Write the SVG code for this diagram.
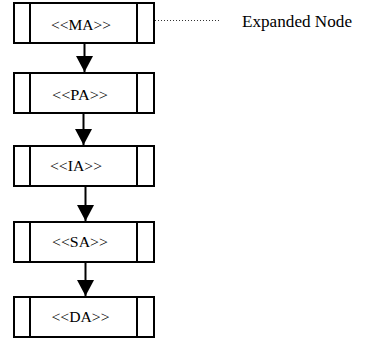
<svg xmlns="http://www.w3.org/2000/svg" width="369" height="340" viewBox="0 0 369 340">
  <style>
    .frame { fill: #ffffff; stroke: #000000; stroke-width: 2; }
    .bar { stroke: #000000; stroke-width: 2; }
    .label { font-family: "Liberation Serif", "Times New Roman", serif; font-size: 14.5px; fill: #000000; text-anchor: middle; }
    .note { font-family: "Liberation Serif", "Times New Roman", serif; font-size: 16px; fill: #000000; }
    .flow { stroke: #000000; stroke-width: 2; fill: none; marker-end: url(#head); }
    .leader { stroke: #333333; stroke-width: 1; stroke-dasharray: 1 2; fill: none; }
  </style>
  <defs>
    <marker id="head" markerWidth="16" markerHeight="17" viewBox="0 0 16 17" refX="16" refY="8.5" markerUnits="userSpaceOnUse" orient="auto">
      <path d="M0,0 L16,8.5 L0,17 Z" fill="#000000"/>
    </marker>
  </defs>
  <rect width="369" height="340" fill="#ffffff"/>

  <g id="connectors">
    <line class="flow" x1="84.5" y1="44" x2="84.5" y2="72"/>
    <line class="flow" x1="83.5" y1="114" x2="83.5" y2="145"/>
    <line class="flow" x1="85.5" y1="187" x2="85.5" y2="221"/>
    <line class="flow" x1="85.5" y1="263" x2="85.5" y2="296"/>
    <line class="leader" x1="155" y1="20.5" x2="219" y2="20.5"/>
  </g>

  <g id="node-ma">
    <rect class="frame" x="14" y="3" width="140" height="40"/>
    <line class="bar" x1="30" y1="3" x2="30" y2="43"/>
    <line class="bar" x1="137" y1="3" x2="137" y2="43"/>
    <text class="label" x="81" y="29.5" textLength="60" lengthAdjust="spacingAndGlyphs">&lt;&lt;MA&gt;&gt;</text>
  </g>

  <g id="node-pa">
    <rect class="frame" x="14" y="73" width="140" height="40"/>
    <line class="bar" x1="30" y1="73" x2="30" y2="113"/>
    <line class="bar" x1="137" y1="73" x2="137" y2="113"/>
    <text class="label" x="80" y="99.5" textLength="56" lengthAdjust="spacingAndGlyphs">&lt;&lt;PA&gt;&gt;</text>
  </g>

  <g id="node-ia">
    <rect class="frame" x="14" y="146" width="140" height="40"/>
    <line class="bar" x1="30" y1="146" x2="30" y2="186"/>
    <line class="bar" x1="137" y1="146" x2="137" y2="186"/>
    <text class="label" x="76" y="171" textLength="52" lengthAdjust="spacingAndGlyphs">&lt;&lt;IA&gt;&gt;</text>
  </g>

  <g id="node-sa">
    <rect class="frame" x="14" y="222" width="140" height="40"/>
    <line class="bar" x1="30" y1="222" x2="30" y2="262"/>
    <line class="bar" x1="137" y1="222" x2="137" y2="262"/>
    <text class="label" x="80" y="246.5" textLength="56" lengthAdjust="spacingAndGlyphs">&lt;&lt;SA&gt;&gt;</text>
  </g>

  <g id="node-da">
    <rect class="frame" x="14" y="297" width="140" height="40"/>
    <line class="bar" x1="30" y1="297" x2="30" y2="337"/>
    <line class="bar" x1="137" y1="297" x2="137" y2="337"/>
    <text class="label" x="80.5" y="321.5" textLength="58" lengthAdjust="spacingAndGlyphs">&lt;&lt;DA&gt;&gt;</text>
  </g>

  <g id="legend">
    <text class="note" x="242" y="27" textLength="110" lengthAdjust="spacingAndGlyphs">Expanded Node</text>
  </g>
</svg>
